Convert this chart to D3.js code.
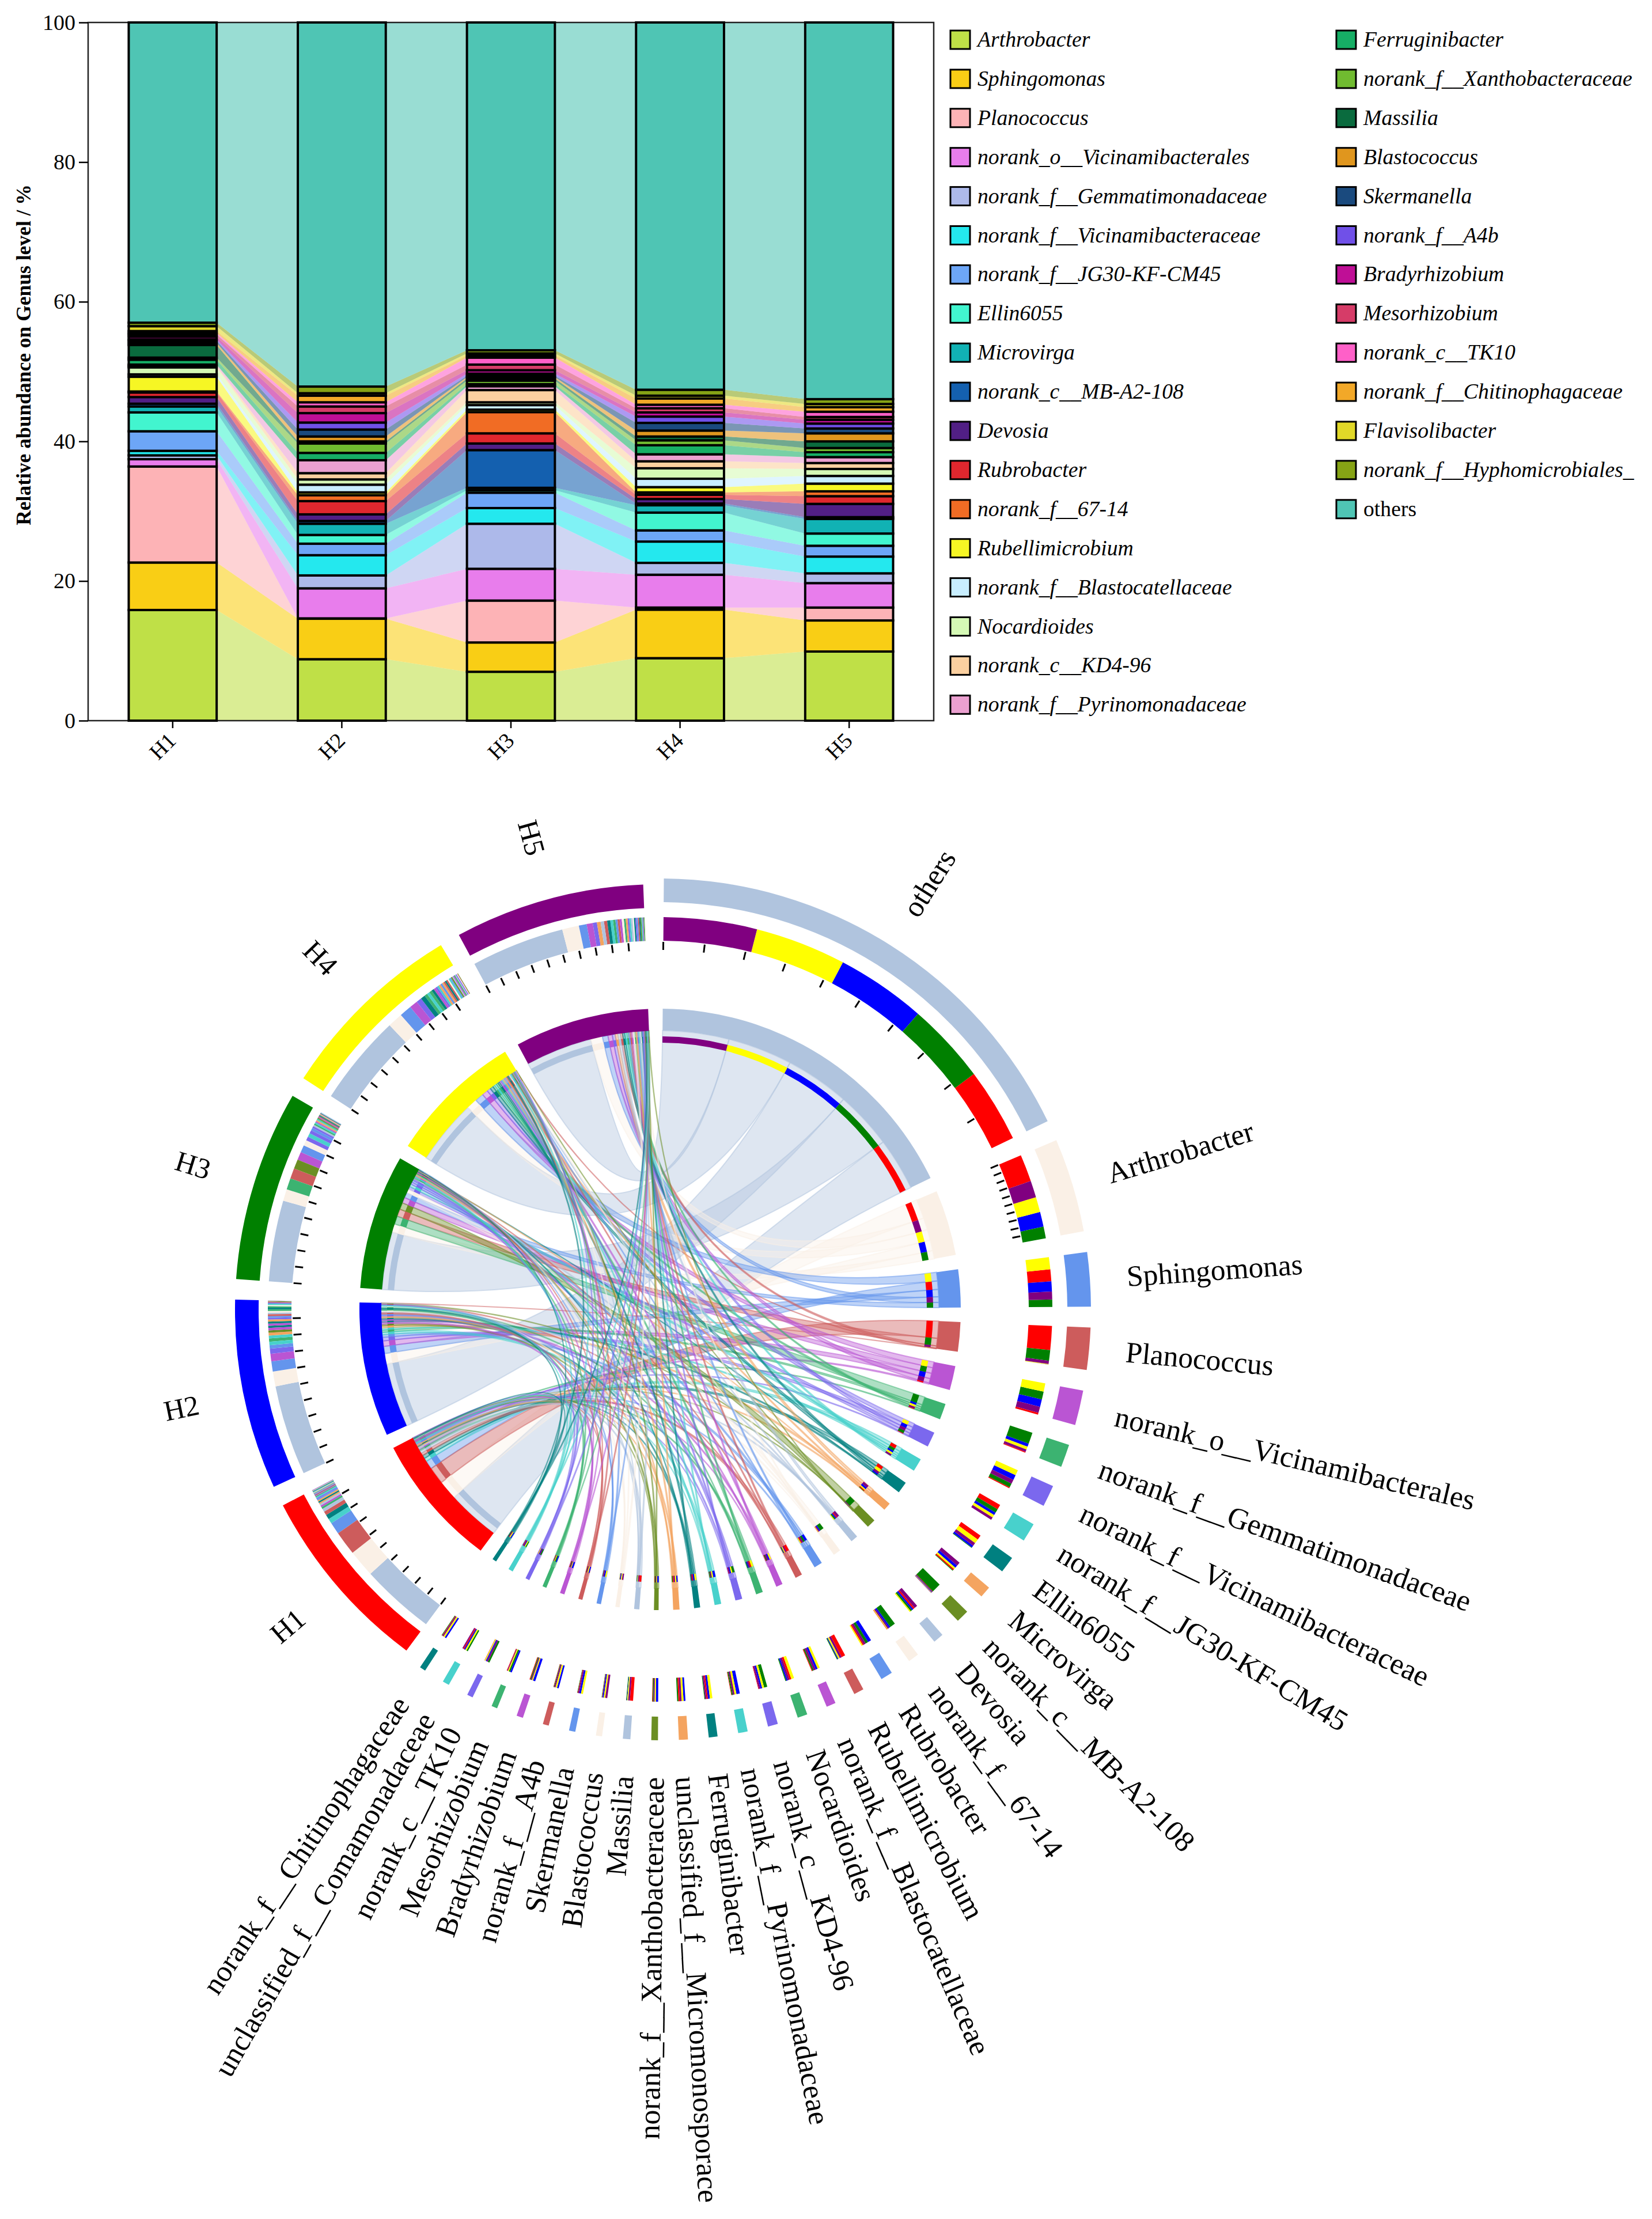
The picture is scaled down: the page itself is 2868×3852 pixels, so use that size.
<!DOCTYPE html>
<html><head><meta charset="utf-8">
<script src="https://cdn.jsdelivr.net/npm/d3@7"></script>
<style>html,body{margin:0;padding:0;background:#fff}svg{display:block}text{font-family:"Liberation Serif",serif;fill:#000}</style>
</head><body><svg id="c" width="2868" height="3852"></svg>
<script>
const sampleNames=["H1","H2","H3","H4","H5"];
const seriesNames=["Arthrobacter","Sphingomonas","Planococcus","norank_o__Vicinamibacterales","norank_f__Gemmatimonadaceae","norank_f__Vicinamibacteraceae","norank_f__JG30-KF-CM45","Ellin6055","Microvirga","norank_c__MB-A2-108","Devosia","Rubrobacter","norank_f__67-14","Rubellimicrobium","norank_f__Blastocatellaceae","Nocardioides","norank_c__KD4-96","norank_f__Pyrinomonadaceae","Ferruginibacter","norank_f__Xanthobacteraceae","Massilia","Blastococcus","Skermanella","norank_f__A4b","Bradyrhizobium","Mesorhizobium","norank_c__TK10","norank_f__Chitinophagaceae","Flavisolibacter","norank_f__Hyphomicrobiales_","others"];
const seriesColors=["#BFE047","#F9CE15","#FDB3B6","#E87DEC","#ADB9EA","#24E8EE","#6DA6F7","#42F5CF","#11B2B4","#1460AF","#511F85","#E0272E","#F16C24","#F6F624","#C8EEFF","#D5F9B5","#FBD0A0","#EBA0D0","#16AE65","#70BB30","#0A6B3E","#E0961E","#1A4A7E","#7050E8","#BF0F96","#D63C68","#FE60C8","#F2A828","#E1D828","#86A315","#4FC5B4"];
// cumulative top of every series in each sample (%)
const h1Tops=[15.85,22.65,36.4,37.45,38.0,38.65,41.45,44.15,45.0,45.4,46.35,47.0,47.15,49.25,49.6,50.6,50.8,51.0,51.7,52.0,53.8,54.1,54.4,54.6,55.0,55.3,55.5,55.8,56.5,57.0,100];
const h2Tops=[8.8,14.6,14.65,18.95,20.8,23.7,25.35,26.6,28.2,28.6,29.55,31.45,32.3,32.7,33.8,34.55,35.45,37.3,38.35,39.7,40.0,40.7,41.7,42.7,44.05,45.0,45.6,46.55,46.9,47.85,100];
const h3Tops=[7.0,11.2,17.2,21.75,28.2,30.45,32.65,33.0,33.35,38.75,39.7,41.15,44.2,44.55,45.2,45.6,47.35,47.9,48.2,48.7,49.0,49.2,49.4,49.7,50.2,51.0,52.0,52.3,52.6,53.05,100];
const h4Tops=[8.95,15.9,16.2,20.9,22.6,25.65,27.25,29.8,30.85,31.1,31.75,32.35,32.7,33.45,34.65,36.15,37.15,38.15,39.45,40.15,40.7,41.55,42.65,43.55,44.15,44.75,45.25,46.15,46.55,47.4,100];
const h5Tops=[9.9,14.35,16.2,19.7,21.1,23.5,25.05,26.8,28.9,29.15,31.05,32.15,32.85,33.95,35.05,36.05,36.9,37.75,38.45,39.05,40.0,41.15,41.85,42.55,43.1,43.5,44.25,44.9,45.35,46.05,100];
const yTicks=[0,20,40,60,80,100];
const yTitle="Relative abundance on Genus level / %";

const chordNames=["others","Arthrobacter","Sphingomonas","Planococcus","norank_o__Vicinamibacterales","norank_f__Gemmatimonadaceae","norank_f__Vicinamibacteraceae","norank_f__JG30-KF-CM45","Ellin6055","Microvirga","norank_c__MB-A2-108","Devosia","norank_f__67-14","Rubrobacter","Rubellimicrobium","norank_f__Blastocatellaceae","Nocardioides","norank_c__KD4-96","norank_f__Pyrinomonadaceae","Ferruginibacter","unclassified_f__Micromonosporace","norank_f__Xanthobacteraceae","Massilia","Blastococcus","Skermanella","norank_f__A4b","Bradyrhizobium","Mesorhizobium","norank_c__TK10","unclassified_f__Comamonadaceae","norank_f__Chitinophagaceae"];
const chordPalette=["#B0C4DE","#FAF0E6","#6495ED","#CD5C5C","#BA55D3","#3CB371","#7B68EE","#48D1CC","#008080","#F4A460","#6B8E23"];
const sampleColors=["#FF0000","#0000FF","#008000","#FFFF00","#800080"];
const chordH1=[42.4,15.55,6.8,13.75,1.05,.55,.65,2.8,2.7,.85,.4,.95,.25,.75,2.2,.45,1.1,.3,.3,.8,.8,.3,1.8,.3,.3,.2,.4,.3,.2,.6,.3];
const chordH2=[51.55,8.5,5.8,.05,4.3,1.85,2.9,1.65,1.25,1.6,.4,.95,.95,2,.5,1.2,.85,1,1.95,1.15,1.1,1.35,.3,.7,1.0,1.0,1.35,.95,.6,.7,.95];
const chordH3=[46.35,6.7,4.2,6,4.55,6.45,2.25,2.2,.35,.35,5.4,.95,3.15,1.55,.45,.75,.5,1.85,.65,.4,.7,.5,.3,.2,.2,.3,.5,.8,1.0,.8,.3];
const chordH4=[52,8.65,6.95,.3,4.7,1.7,3.05,1.6,2.55,1.05,.25,.65,.45,.7,.85,1.3,1.6,1.1,1.1,1.4,1.1,.7,.55,.85,1.1,.9,.6,.6,.5,.8,.9];
const chordH5=[53.35,9.6,4.45,1.85,3.5,1.4,2.4,1.55,1.75,2.1,.25,1.9,.8,1.2,1.2,1.2,1.1,.95,.95,.8,1.0,.6,.95,1.15,.7,.7,.55,.4,.75,.6,.65];

const svg=d3.select("#c");
const plot={l:153,r:1621,t:39,b:1251};
const tops=[h1Tops,h2Tops,h3Tops,h4Tops,h5Tops];
const x=d3.scaleBand().domain(sampleNames).range([plot.l,plot.r]).paddingInner(.48).paddingOuter(.24);
const y=d3.scaleLinear().domain([0,100]).range([plot.b,plot.t]);
const bottoms=tops.map(t=>t.map((v,i)=>i?t[i-1]:0));

// flows between bars
const flow=d3.area().x(d=>d.x).y0(d=>y(d.lo)).y1(d=>y(d.hi));
const flowG=svg.append("g");
seriesNames.forEach((s,i)=>{
  d3.pairs(sampleNames.map((_,j)=>j)).forEach(([a,b])=>{
    flowG.append("path").attr("fill",seriesColors[i]).attr("fill-opacity",.58)
      .attr("d",flow([{x:x(sampleNames[a])+x.bandwidth(),lo:bottoms[a][i],hi:tops[a][i]},{x:x(sampleNames[b]),lo:bottoms[b][i],hi:tops[b][i]}]));
  });
});
// frame
svg.append("rect").attr("x",plot.l).attr("y",plot.t).attr("width",plot.r-plot.l).attr("height",plot.b-plot.t).attr("fill","none").attr("stroke","#222").attr("stroke-width",2.5);
// bars
const barG=svg.append("g");
sampleNames.forEach((s,j)=>{
  barG.selectAll(null).data(seriesNames).join("rect")
    .attr("x",x(s)).attr("width",x.bandwidth())
    .attr("y",(d,i)=>y(tops[j][i])).attr("height",(d,i)=>y(bottoms[j][i])-y(tops[j][i]))
    .attr("fill",(d,i)=>seriesColors[i]).attr("stroke","#000").attr("stroke-width",4);
});
// axes
const ax=svg.append("g").attr("transform",`translate(${plot.l},0)`).call(d3.axisLeft(y).tickValues(yTicks).tickSize(16).tickPadding(6));
ax.selectAll("path").remove();
ax.selectAll("line").attr("stroke","#000").attr("stroke-width",2.5);
ax.selectAll("text").style("font-size","38px").attr("font-family","Liberation Serif");
const bx=svg.append("g").attr("transform",`translate(0,${plot.b})`).call(d3.axisBottom(x).tickSize(13));
bx.selectAll("path").remove();
bx.selectAll("line").attr("stroke","#000").attr("stroke-width",2.5);
bx.selectAll("text").style("font-size","38px").attr("text-anchor","end").attr("dy",0).attr("y",0)
  .attr("transform","translate(8,37) rotate(-45)");
svg.append("text").attr("transform","translate(53,616) rotate(-90)").attr("text-anchor","middle").style("font-size","35.5px").style("font-weight","bold").text(yTitle);
// legend
const legG=svg.append("g");
seriesNames.forEach((s,i)=>{
  const col=i<18?0:1, row=i<18?i:i-18;
  const lx=col?2320:1650, ly=69+row*67.9;
  legG.append("rect").attr("x",lx).attr("y",ly-16).attr("width",34).attr("height",32).attr("fill",seriesColors[i]).attr("stroke","#000").attr("stroke-width",3);
  legG.append("text").attr("x",lx+47).attr("y",ly+12).style("font-size","37.7px").style("font-style",s==="others"?"normal":"italic").text(s);
});

// chord
const nSp=chordNames.length, nS=sampleNames.length, n=nSp+nS;
const sampleRows=[chordH1,chordH2,chordH3,chordH4,chordH5];
const matrix=d3.range(n).map(()=>new Array(n).fill(0));
sampleRows.forEach((row,j)=>row.forEach((v,i)=>{matrix[i][nSp+j]=v;matrix[nSp+j][i]=v;}));
const chords=d3.chord().padAngle(2.78*Math.PI/180).sortSubgroups(d3.descending)(matrix);
const colorOf=i=>i<nSp?chordPalette[i%chordPalette.length]:sampleColors[i-nSp];
const R={a1:748,a0:707,ha1:738,ha0:697,b1:681,b0:640,t1:638,t0:624,c1:522,c0:484,d1:474,d0:463,lab:812,hlab:818};
const g=svg.append("g").attr("transform","translate(1146,2273) rotate(.5)");
const arc=(r0,r1)=>d3.arc().innerRadius(r0).outerRadius(r1);
const ribbon=d3.ribbon().radius(R.c0);
const ordered=[...chords].sort((p,q)=>Math.min(p.source.index,p.target.index)-Math.min(q.source.index,q.target.index));
g.append("g").selectAll("path").data(ordered).join("path").attr("d",ribbon)
  .attr("fill",d=>colorOf(Math.min(d.source.index,d.target.index))).attr("fill-opacity",.42)
  .attr("stroke",d=>colorOf(Math.min(d.source.index,d.target.index))).attr("stroke-opacity",.5).attr("stroke-width",2);
const ends=[];
chords.forEach(c=>{ends.push({a:c.source,partner:c.target.index});ends.push({a:c.target,partner:c.source.index});});
[[R.b0,R.b1],[R.d0,R.d1]].forEach(([r0,r1])=>{
  g.append("g").selectAll("path").data(ends).join("path").attr("d",d=>arc(r0,r1)(d.a)).attr("fill",d=>colorOf(d.partner));
});
g.append("g").selectAll("path").data(chords.groups).join("path")
  .attr("d",d=>d.index<nSp?arc(R.a0,R.a1)(d):arc(R.ha0,R.ha1)(d)).attr("fill",d=>colorOf(d.index));
g.append("g").selectAll("path").data(chords.groups).join("path").attr("d",arc(R.c0,R.c1)).attr("fill",d=>colorOf(d.index));
// ticks
const tickStep=i=>i>=nSp?10:(i===0?25:(i===1?5:0));
chords.groups.forEach(gr=>{
  const st=tickStep(gr.index); if(!st) return;
  const k=(gr.endAngle-gr.startAngle)/gr.value;
  g.append("g").selectAll("line").data(d3.range(0,gr.value-1,st)).join("line")
    .attr("transform",v=>`rotate(${(gr.startAngle+v*k)*180/Math.PI})`)
    .attr("y1",-R.t1).attr("y2",-R.t0).attr("stroke","#000").attr("stroke-width",3);
});
// labels
const labels=g.append("g");
chords.groups.forEach(gr=>{
  const a=(gr.startAngle+gr.endAngle)/2*180/Math.PI, isS=gr.index>=nSp;
  const t=isS?sampleNames[gr.index-nSp]:chordNames[gr.index], r=isS?R.hlab:R.lab;
  const right=a<180;
  labels.append("text").attr("transform",`rotate(${a-90}) translate(${r},0)`+(right?"":" rotate(180)"))
    .attr("text-anchor",right?"start":"end").attr("dy",".33em")
    .style("font-size",isS?"50px":"51.5px").text(t);
});
</script></body></html>
